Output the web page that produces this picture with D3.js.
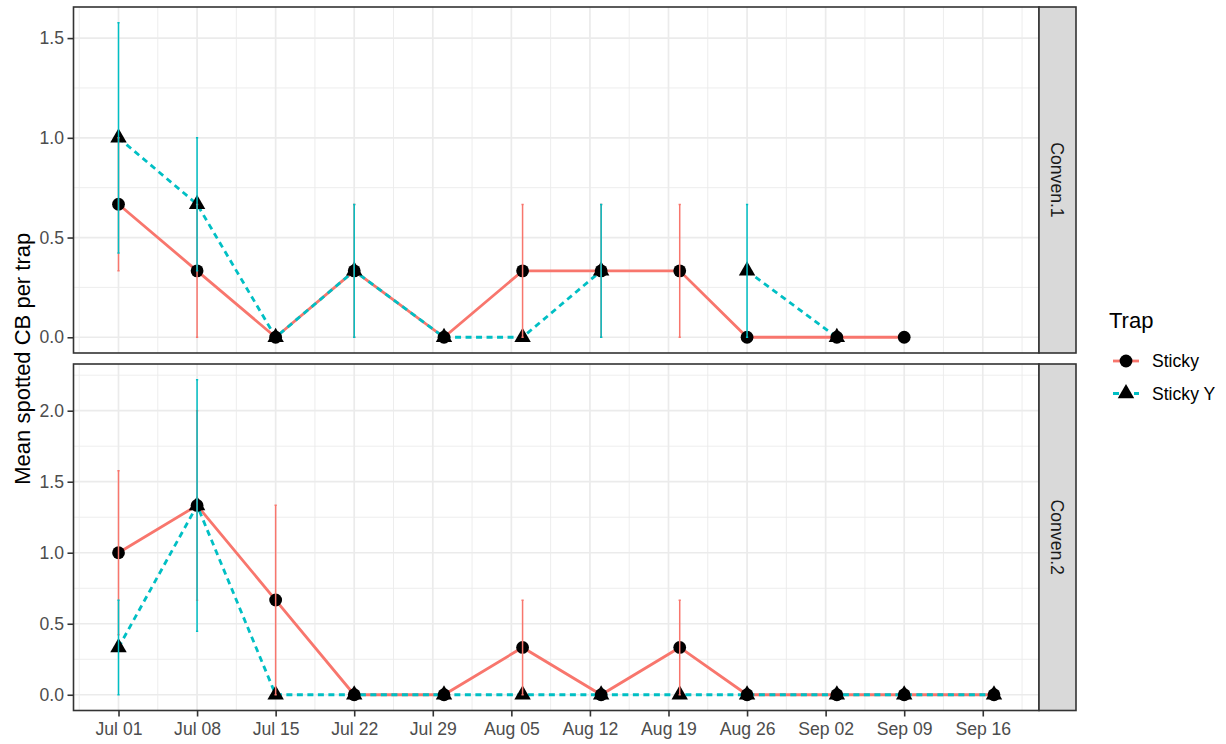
<!DOCTYPE html>
<html>
<head>
<meta charset="utf-8">
<script src="https://cdn.jsdelivr.net/npm/d3@7"></script>
<style>
  body { margin: 0; background: #ffffff; }
  svg text { font-family: "Liberation Sans", Arial, sans-serif; }
</style>
</head>
<body>
<svg id="chart" width="1226" height="744"></svg>
<script>
// Sampling dates (weekly trap checks)
const sampleDates = ["2019-07-01", "2019-07-08", "2019-07-15", "2019-07-22", "2019-07-30", "2019-08-06",
                     "2019-08-13", "2019-08-20", "2019-08-26", "2019-09-03", "2019-09-09", "2019-09-17"];
const trapNames = ["Sticky", "Sticky Y"];
const facetNames = ["Conven.1", "Conven.2"];

// Mean spotted CB per trap and standard errors (null = no sample)
const conven1Sticky    = [0.667, 0.333, 0, 0.333, 0, 0.333, 0.333, 0.333, 0, 0, 0, null];
const conven1StickySE  = [0.333, 0.333, 0, 0.333, 0, 0.333, 0.333, 0.333, 0, 0, 0, null];
const conven1StickyY   = [1.0, 0.667, 0, 0.333, 0, 0, 0.333, null, 0.333, 0, null, null];
const conven1StickyYSE = [0.577, 0.333, 0, 0.333, 0, 0, 0.333, null, 0.333, 0, null, null];
const conven2Sticky    = [1.0, 1.333, 0.667, 0, 0, 0.333, 0, 0.333, 0, 0, 0, 0];
const conven2StickySE  = [0.577, 0.667, 0.667, 0, 0, 0.333, 0, 0.333, 0, 0, 0, 0];
const conven2StickyY   = [0.333, 1.333, 0, 0, 0, 0, 0, 0, 0, 0, 0, 0];
const conven2StickyYSE = [0.333, 0.885, 0, 0, 0, 0, 0, 0, 0, 0, 0, 0];

// Axis tick values
const xTickDates = ["2019-07-01", "2019-07-08", "2019-07-15", "2019-07-22", "2019-07-29", "2019-08-05",
                    "2019-08-12", "2019-08-19", "2019-08-26", "2019-09-02", "2019-09-09", "2019-09-16"];
const conven1YTicks = [0, 0.5, 1, 1.5];
const conven2YTicks = [0, 0.5, 1, 1.5, 2];

// ---- appearance ----
const trapColors = { "Sticky": "#F8766D", "Sticky Y": "#00BFC4" };
const trapDash = { "Sticky": null, "Sticky Y": "6,4.5" };
const trapShape = { "Sticky": "circle", "Sticky Y": "triangle" };
const gridColor = "#EBEBEB";
const inkColor = "#333333";
const tickFont = 17.6, titleFont = 22;

const svg = d3.select("#chart");
const parseDate = d3.utcParse("%Y-%m-%d");
const DAY = 864e5;

const panelLeft = 73.5, panelRight = 1039, stripWidth = 37;
const panelBoxes = [{ top: 7, bottom: 353 }, { top: 364, bottom: 710.5 }];

// Shared x scale: data extent (plus half error-bar width) with 5% expansion
const allDates = sampleDates.map(parseDate);
const errHalf = 0.1 * DAY;
const lo = d3.min(allDates).getTime() - errHalf;
const hi = d3.max(allDates).getTime() + errHalf;
const xPad = (hi - lo) * 0.05;
const x = d3.scaleUtc().domain([new Date(lo - xPad), new Date(hi + xPad)]).range([panelLeft, panelRight]);

const xTicks = xTickDates.map(parseDate);
const xMinor = [];
for (let i = -1; i < xTicks.length; i++) {
  const a = i < 0 ? xTicks[0].getTime() - 7 * DAY : xTicks[i].getTime();
  const m = new Date(a + 3.5 * DAY);
  if (m >= x.domain()[0] && m <= x.domain()[1]) xMinor.push(m);
}

function buildSeries(means, ses) {
  return sampleDates.map((d, i) => ({ date: parseDate(d), y: means[i], se: ses[i] }));
}

const facets = [
  { name: facetNames[0], yTicks: conven1YTicks,
    series: [{ trap: trapNames[0], pts: buildSeries(conven1Sticky, conven1StickySE) },
             { trap: trapNames[1], pts: buildSeries(conven1StickyY, conven1StickyYSE) }] },
  { name: facetNames[1], yTicks: conven2YTicks,
    series: [{ trap: trapNames[0], pts: buildSeries(conven2Sticky, conven2StickySE) },
             { trap: trapNames[1], pts: buildSeries(conven2StickyY, conven2StickyYSE) }] }
];

const triSize = 6.1;
const trianglePath = (s) => `M0,${-1.555 * s}L${1.347 * s},${0.778 * s}L${-1.347 * s},${0.778 * s}Z`;

function drawMarker(sel, shape) {
  if (shape === "circle") {
    sel.append("circle").attr("r", 6.4).attr("fill", "#000");
  } else {
    sel.append("path").attr("d", trianglePath(triSize)).attr("fill", "#000");
  }
}

facets.forEach((f, fi) => {
  const box = panelBoxes[fi];
  const vals = [];
  f.series.forEach(s => s.pts.forEach(p => {
    if (p.y != null) { vals.push(p.y - p.se, p.y + p.se); }
  }));
  const yMin = d3.min(vals), yMax = d3.max(vals);
  const yPad = (yMax - yMin) * 0.05;
  const y = d3.scaleLinear().domain([yMin - yPad, yMax + yPad]).range([box.bottom, box.top]);

  const g = svg.append("g");
  g.append("rect").attr("x", panelLeft).attr("y", box.top)
    .attr("width", panelRight - panelLeft).attr("height", box.bottom - box.top).attr("fill", "#fff");

  // minor grid
  const yMinor = [];
  for (let i = 0; i < f.yTicks.length; i++) {
    const m = f.yTicks[i] + 0.25;
    if (m <= y.domain()[1]) yMinor.push(m);
  }
  g.selectAll(".yminor").data(yMinor).enter().append("line")
    .attr("x1", panelLeft).attr("x2", panelRight)
    .attr("y1", d => y(d)).attr("y2", d => y(d))
    .attr("stroke", gridColor).attr("stroke-width", 0.9);
  g.selectAll(".xminor").data(xMinor).enter().append("line")
    .attr("y1", box.top).attr("y2", box.bottom)
    .attr("x1", d => x(d)).attr("x2", d => x(d))
    .attr("stroke", gridColor).attr("stroke-width", 0.9);
  // major grid
  g.selectAll(".ymajor").data(f.yTicks).enter().append("line")
    .attr("x1", panelLeft).attr("x2", panelRight)
    .attr("y1", d => y(d)).attr("y2", d => y(d))
    .attr("stroke", gridColor).attr("stroke-width", 1.7);
  g.selectAll(".xmajor").data(xTicks).enter().append("line")
    .attr("y1", box.top).attr("y2", box.bottom)
    .attr("x1", d => x(d)).attr("x2", d => x(d))
    .attr("stroke", gridColor).attr("stroke-width", 1.7);

  // lines
  const line = d3.line().defined(d => d.y != null).x(d => x(d.date)).y(d => y(d.y));
  f.series.forEach(s => {
    g.append("path").datum(s.pts).attr("d", line)
      .attr("fill", "none").attr("stroke", trapColors[s.trap]).attr("stroke-width", 2.8)
      .attr("stroke-dasharray", trapDash[s.trap]);
  });

  // points
  f.series.forEach(s => {
    g.selectAll(null).data(s.pts.filter(p => p.y != null)).enter().append("g")
      .attr("transform", d => `translate(${x(d.date)},${y(d.y)})`)
      .each(function () { drawMarker(d3.select(this), trapShape[s.trap]); });
  });

  // error bars
  f.series.forEach(s => {
    const eb = g.selectAll(null).data(s.pts.filter(p => p.y != null && p.se > 0)).enter().append("g")
      .attr("stroke", trapColors[s.trap]).attr("stroke-width", 1.5).attr("fill", "none");
    eb.append("path").attr("d", d => {
      const xl = x(new Date(d.date.getTime() - errHalf)), xr = x(new Date(d.date.getTime() + errHalf));
      const xc = x(d.date), y0 = y(d.y - d.se), y1 = y(d.y + d.se);
      return `M${xl},${y1}H${xr}M${xc},${y1}V${y0}M${xl},${y0}H${xr}`;
    });
  });

  // panel border
  g.append("rect").attr("x", panelLeft).attr("y", box.top)
    .attr("width", panelRight - panelLeft).attr("height", box.bottom - box.top)
    .attr("fill", "none").attr("stroke", inkColor).attr("stroke-width", 1.6);

  // strip
  g.append("rect").attr("x", panelRight).attr("y", box.top)
    .attr("width", stripWidth).attr("height", box.bottom - box.top)
    .attr("fill", "#D9D9D9").attr("stroke", inkColor).attr("stroke-width", 1.6);
  g.append("text")
    .attr("transform", `translate(${panelRight + stripWidth / 2},${(box.top + box.bottom) / 2}) rotate(90)`)
    .attr("text-anchor", "middle").attr("dy", "0.35em")
    .attr("font-size", tickFont).attr("fill", "#1A1A1A").text(f.name);

  // y axis
  const yAxis = d3.axisLeft(y).tickValues(f.yTicks).tickFormat(d3.format(".1f")).tickSize(6).tickPadding(3.5);
  const ya = svg.append("g").attr("transform", `translate(${panelLeft},0)`).call(yAxis);
  ya.select(".domain").remove();
  ya.selectAll(".tick line").attr("stroke", inkColor).attr("stroke-width", 1.6);
  ya.selectAll(".tick text").attr("font-size", tickFont).attr("fill", "#4D4D4D")
    .attr("font-family", "Liberation Sans, Arial, sans-serif");

  if (fi === facets.length - 1) {
    const xAxis = d3.axisBottom(x).tickValues(xTicks).tickFormat(d3.utcFormat("%b %d")).tickSize(6).tickPadding(6);
    const xa = svg.append("g").attr("transform", `translate(0,${box.bottom})`).call(xAxis);
    xa.select(".domain").remove();
    xa.selectAll(".tick line").attr("stroke", inkColor).attr("stroke-width", 1.6);
    xa.selectAll(".tick text").attr("font-size", tickFont).attr("fill", "#4D4D4D")
      .attr("font-family", "Liberation Sans, Arial, sans-serif");
  }
});

// y axis title
svg.append("text")
  .attr("transform", `translate(30,${(panelBoxes[0].top + panelBoxes[1].bottom) / 2}) rotate(-90)`)
  .attr("text-anchor", "middle").attr("font-size", titleFont).attr("fill", "#000")
  .text("Mean spotted CB per trap");

// legend
const legend = svg.append("g").attr("transform", "translate(1109,0)");
legend.append("text").attr("x", 0).attr("y", 328).attr("font-size", titleFont).attr("fill", "#000").text("Trap");
trapNames.forEach((t, i) => {
  const cy = 361 + i * 32.5;
  const k = legend.append("g").attr("transform", `translate(17,${cy})`);
  k.append("line").attr("x1", -13).attr("x2", 13).attr("y1", 0).attr("y2", 0)
    .attr("stroke", trapColors[t]).attr("stroke-width", 2.8).attr("stroke-dasharray", trapDash[t]);
  drawMarker(k, trapShape[t]);
  legend.append("text").attr("x", 43).attr("y", cy).attr("dy", "0.35em")
    .attr("font-size", tickFont).attr("fill", "#000").text(t);
});
</script>
</body>
</html>
